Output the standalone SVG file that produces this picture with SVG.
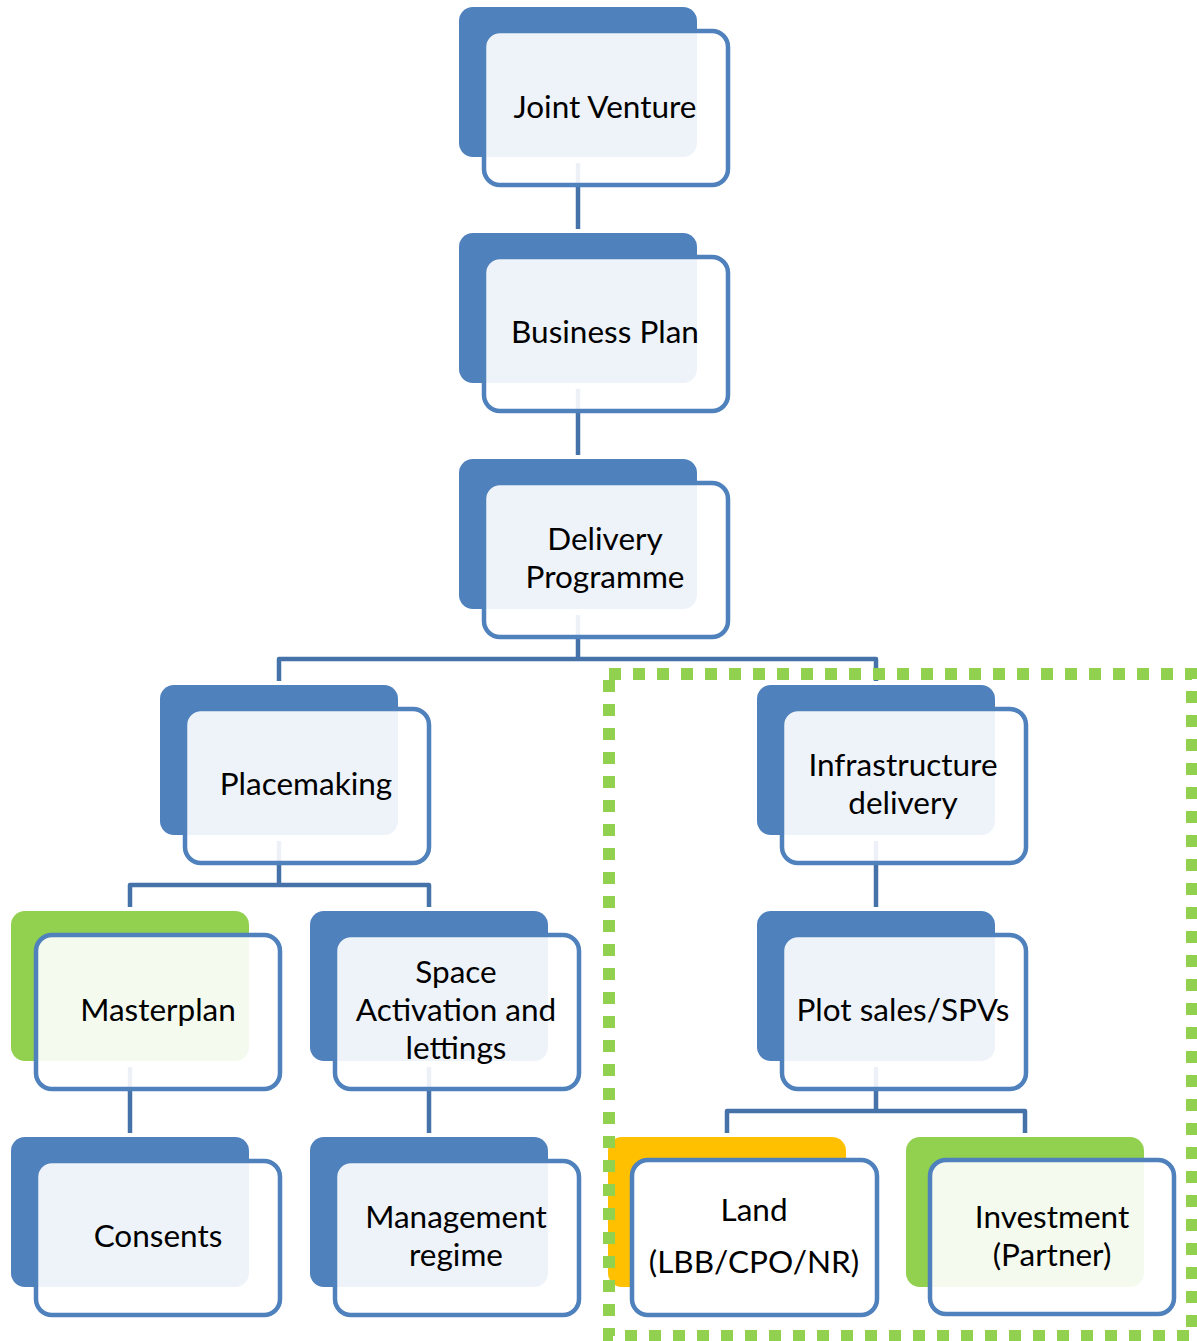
<svg xmlns="http://www.w3.org/2000/svg" width="1197" height="1341" viewBox="0 0 1197 1341">
  <style>
    .back { fill: #4f81bd; }
    .back.green { fill: #92d050; }
    .back.orange { fill: #ffc000; }
    .front { fill: #ffffff; fill-opacity: 0.9; stroke: #4f81bd; stroke-width: 4.5; }
    .front.solid { fill-opacity: 1; }
    .label { font-family: Lato, "Open Sans", sans-serif; font-size: 31.5px; fill: #000000; text-anchor: middle; }
    .conn { fill: none; stroke: #4672aa; stroke-width: 4.5; stroke-linejoin: round; }
    .zone { fill: none; stroke: #92d050; stroke-width: 12; stroke-dasharray: 12 12; }
  </style>

  <!-- connectors, drawn first so node faces sit over their ends -->
  <g id="connectors">
    <path class="conn" d="M578 163 V229"/>
    <path class="conn" d="M578 389 V455"/>
    <path class="conn" d="M578 615 V659 M279 681 V659 H876 V681"/>
    <path class="conn" d="M279 841 V885 M130 907 V885 H429 V907"/>
    <path class="conn" d="M130 1067 V1133"/>
    <path class="conn" d="M429 1067 V1133"/>
    <path class="conn" d="M876 841 V907"/>
    <path class="conn" d="M876 1067 V1111 M727 1133 V1111 H1025 V1133"/>
  </g>

  <g id="joint-venture">
    <rect class="back" x="459" y="7" width="238" height="150" rx="14"/>
    <rect class="front" x="484" y="31" width="244" height="154" rx="16"/>
    <text class="label" x="605" y="118">Joint Venture</text>
  </g>

  <g id="business-plan">
    <rect class="back" x="459" y="233" width="238" height="150" rx="14"/>
    <rect class="front" x="484" y="257" width="244" height="154" rx="16"/>
    <text class="label" x="605" y="343">Business Plan</text>
  </g>

  <g id="delivery-programme">
    <rect class="back" x="459" y="459" width="238" height="150" rx="14"/>
    <rect class="front" x="484" y="483" width="244" height="154" rx="16"/>
    <text class="label" x="605" y="550">Delivery</text>
    <text class="label" x="605" y="588">Programme</text>
  </g>

  <g id="placemaking">
    <rect class="back" x="160" y="685" width="238" height="150" rx="14"/>
    <rect class="front" x="185" y="709" width="244" height="154" rx="16"/>
    <text class="label" x="306" y="795">Placemaking</text>
  </g>

  <g id="infrastructure-delivery">
    <rect class="back" x="757" y="685" width="238" height="150" rx="14"/>
    <rect class="front" x="782" y="709" width="244" height="154" rx="16"/>
    <text class="label" x="903" y="776">Infrastructure</text>
    <text class="label" x="903" y="814">delivery</text>
  </g>

  <g id="masterplan">
    <rect class="back green" x="11" y="911" width="238" height="150" rx="14"/>
    <rect class="front" x="36" y="935" width="244" height="154" rx="16"/>
    <text class="label" x="158" y="1021">Masterplan</text>
  </g>

  <g id="space-activation">
    <rect class="back" x="310" y="911" width="238" height="150" rx="14"/>
    <rect class="front" x="335" y="935" width="244" height="154" rx="16"/>
    <text class="label" x="456" y="983">Space</text>
    <text class="label" x="456" y="1021">Activation and</text>
    <text class="label" x="456" y="1059">lettings</text>
  </g>

  <g id="plot-sales">
    <rect class="back" x="757" y="911" width="238" height="150" rx="14"/>
    <rect class="front" x="782" y="935" width="244" height="154" rx="16"/>
    <text class="label" x="903" y="1021">Plot sales/SPVs</text>
  </g>

  <g id="consents">
    <rect class="back" x="11" y="1137" width="238" height="150" rx="14"/>
    <rect class="front" x="36" y="1161" width="244" height="154" rx="16"/>
    <text class="label" x="158" y="1247">Consents</text>
  </g>

  <g id="management-regime">
    <rect class="back" x="310" y="1137" width="238" height="150" rx="14"/>
    <rect class="front" x="335" y="1161" width="244" height="154" rx="16"/>
    <text class="label" x="456" y="1228">Management</text>
    <text class="label" x="456" y="1266">regime</text>
  </g>

  <g id="land">
    <rect class="back orange" x="608" y="1137" width="238" height="150" rx="14"/>
    <rect class="front solid" x="632" y="1160" width="245" height="155" rx="16"/>
    <text class="label" x="754" y="1221">Land</text>
    <text class="label" x="754" y="1273">(LBB/CPO/NR)</text>
  </g>

  <g id="investment">
    <rect class="back green" x="906" y="1137" width="238" height="150" rx="14"/>
    <rect class="front" x="930" y="1160" width="244" height="154" rx="16"/>
    <text class="label" x="1052" y="1228">Investment</text>
    <text class="label" x="1052" y="1266">(Partner)</text>
  </g>

  <!-- delivery zone outline -->
  <g id="delivery-zone">
    <rect class="zone" x="609" y="674" width="583" height="662"/>
  </g>
</svg>
